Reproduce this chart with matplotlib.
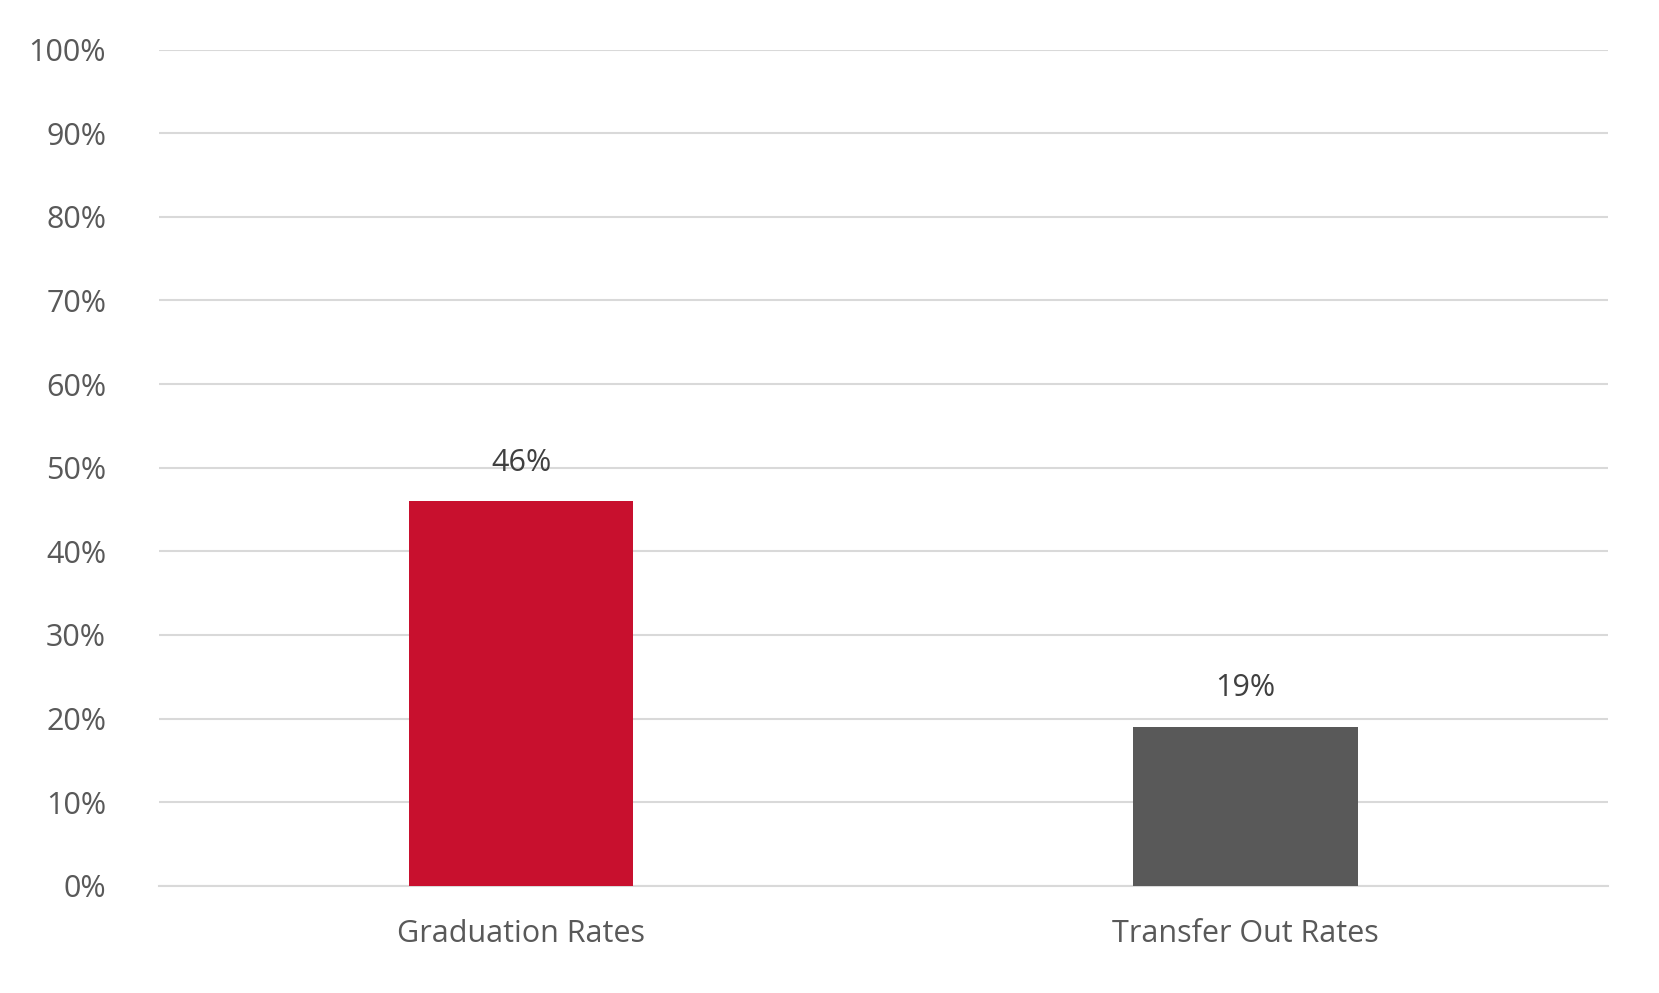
import matplotlib.pyplot as plt
from matplotlib.ticker import PercentFormatter

categories = ['Graduation Rates', 'Transfer Out Rates']
values = [46, 19]
colors = ['#C8102E', '#595959']

plt.rcParams['font.family'] = ['Open Sans', 'DejaVu Sans']

fig = plt.figure(figsize=(16.59, 9.93), dpi=100)
ax = fig.add_axes([0.0958, 0.108, 0.8734, 0.842])

x = list(range(len(categories)))
bars = ax.bar(x, values, width=0.31, color=colors, zorder=3)
for b, v in zip(bars, values):
    ax.text(b.get_x() + b.get_width() / 2, v + 2.8, f'{v}%', ha='center', va='bottom',
            fontsize=22, color='#404040')

ax.set_xlim(-0.5, 1.5)
ax.set_ylim(0, 100)
ax.set_yticks(range(0, 101, 10))
ax.yaxis.set_major_formatter(PercentFormatter(decimals=0))
ax.set_xticks(x)
ax.set_xticklabels(categories)
ax.tick_params(axis='both', length=0, labelsize=22, labelcolor='#595959')
ax.tick_params(axis='y', pad=38)
ax.tick_params(axis='x', pad=24)
ax.grid(axis='y', color='#D9D9D9', linewidth=1.5, zorder=0)
for s in ['top', 'right', 'left']:
    ax.spines[s].set_visible(False)
ax.spines['bottom'].set_color('#D9D9D9')
ax.spines['bottom'].set_linewidth(1.5)

fig.savefig('out.png', dpi=100)
